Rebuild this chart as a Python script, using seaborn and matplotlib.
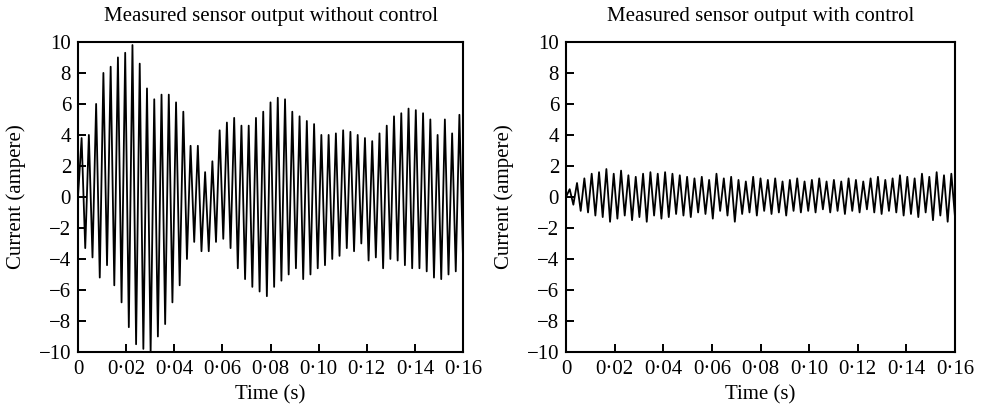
import numpy as np
import matplotlib
matplotlib.use("Agg")
import matplotlib.pyplot as plt
import seaborn as sns
from matplotlib.ticker import FuncFormatter

# Extremes of each cycle (ampere)
peaks_off = [3.8, 4.0, 6.0, 8.0, 8.4, 9.0, 9.3, 9.8, 8.6, 7.0, 6.3, 6.6, 6.6,
             6.1, 5.5, 3.3, 3.3, 1.6, 2.3, 4.3, 4.8, 5.1, 4.6, 4.6, 5.1, 5.5,
             6.1, 6.4, 6.3, 5.5, 5.2, 4.9, 4.7, 4.0, 4.0, 4.1, 4.3, 4.2, 4.0, 3.8,
             3.6, 4.1, 4.6, 5.2, 5.4, 5.7, 5.6, 5.4, 5.0, 4.0, 5.0, 4.1, 5.3]
troughs_off = [-3.3, -3.9, -5.2, -4.4, -5.7, -6.8, -8.4, -9.5, -9.8, -10.0, -9.0, -8.2, -6.8,
               -5.7, -4.0, -2.9, -3.5, -3.5, -2.9, -2.7, -3.3, -4.6, -5.3, -5.8, -6.1, -6.4,
               -5.8, -5.4, -5.0, -4.6, -5.3, -5.0, -4.6, -4.4, -4.0, -3.8, -3.3, -3.5, -3.0,
               -4.1, -3.9, -4.6, -4.0, -4.1, -4.4, -4.6, -4.6, -4.8, -5.2, -5.3, -5.0, -4.8, -4.0]

peaks_on = [0.5, 0.9, 1.2,
            1.5, 1.6, 1.8, 1.5, 1.7, 1.4, 1.3, 1.5, 1.6, 1.5, 1.6, 1.5, 1.4, 1.3,
            1.2, 1.3, 1.1, 1.5, 1.2, 1.3, 1.1, 1.0, 1.3, 1.2, 1.1, 1.2, 1.0, 1.1, 1.2,
            1.0, 1.1, 1.2, 1.0, 1.1, 1.0, 1.2, 1.1, 1.0, 1.2, 1.3, 1.1, 1.2, 1.4, 1.3,
            1.2, 1.5, 1.3, 1.6, 1.4, 1.5]
troughs_on = [-0.5, -0.9, -1.0, -1.2, -1.3, -1.6, -1.4, -1.2, -1.5, -1.3, -1.6, -1.2, -1.4,
              -1.3, -1.1, -1.2, -1.3,
              -1.0, -1.1, -1.4, -0.9, -1.2, -1.6, -1.1, -1.0, -1.2, -0.9, -1.1, -1.0, -1.2,
              -0.9, -1.0,
              -0.9, -1.0, -0.8, -1.0, -0.9, -1.1, -0.9, -1.0, -0.8, -1.0, -1.1, -0.9, -1.0,
              -1.2, -1.1, -1.3, -1.0, -1.5, -1.2, -1.6, -1.3]

x_ticks = [0, 0.02, 0.04, 0.06, 0.08, 0.10, 0.12, 0.14, 0.16]
y_ticks = [-10, -8, -6, -4, -2, 0, 2, 4, 6, 8, 10]


def build_trace(peaks, troughs, t_end=0.16, t_first=0.0015):
    """Interleave peaks and troughs at half-period spacing, starting from zero."""
    n = len(peaks)
    period = (t_end - t_first) / (n - 0.5)
    t = [0.0]
    v = [0.0]
    for i in range(n):
        t.append(t_first + i * period)
        v.append(peaks[i])
        t.append(t_first + (i + 0.5) * period)
        v.append(troughs[i])
    return np.array(t), np.array(v)


def fmt_time(x, pos):
    if abs(x) < 1e-9:
        return "0"
    return f"{x:.2f}".replace(".", "\u00b7")


def fmt_current(y, pos):
    return f"{int(y)}".replace("-", "\u2212")


sns.set_style("ticks", {"axes.edgecolor": "black", "xtick.color": "black",
                        "ytick.color": "black", "text.color": "black",
                        "axes.labelcolor": "black"})
plt.rcParams["font.family"] = ["Liberation Serif", "DejaVu Serif"]
fs = 15

fig = plt.figure(figsize=(9.81, 4.11), dpi=100)
ax1 = fig.add_axes([0.0795, 0.1436, 0.3925, 0.7544])
ax2 = fig.add_axes([0.577, 0.1436, 0.3965, 0.7544])

panels = [
    (ax1, peaks_off, troughs_off, "Measured sensor output without control"),
    (ax2, peaks_on, troughs_on, "Measured sensor output with control"),
]

for ax, pk, tr, title in panels:
    t, v = build_trace(pk, tr)
    sns.lineplot(x=t, y=v, ax=ax, color="black", linewidth=1.3,
                 estimator=None, sort=False)
    ax.set_xlim(0, 0.16)
    ax.set_ylim(-10, 10)
    ax.set_xticks(x_ticks)
    ax.set_yticks(y_ticks)
    ax.xaxis.set_major_formatter(FuncFormatter(fmt_time))
    ax.yaxis.set_major_formatter(FuncFormatter(fmt_current))
    ax.tick_params(direction="in", length=6, width=1.4, labelsize=fs,
                   colors="black")
    ax.tick_params(axis="x", pad=6)
    ax.tick_params(axis="y", pad=5)
    for s in ax.spines.values():
        s.set_linewidth(1.5)
        s.set_color("black")
        s.set_visible(True)
    ax.set_title(title, fontsize=fs, pad=15, color="black")
    ax.set_xlabel("Time (s)", fontsize=fs, labelpad=4, color="black")
    ax.set_ylabel("Current (ampere)", fontsize=fs, labelpad=9, color="black")

fig.savefig("out.png", dpi=100)
